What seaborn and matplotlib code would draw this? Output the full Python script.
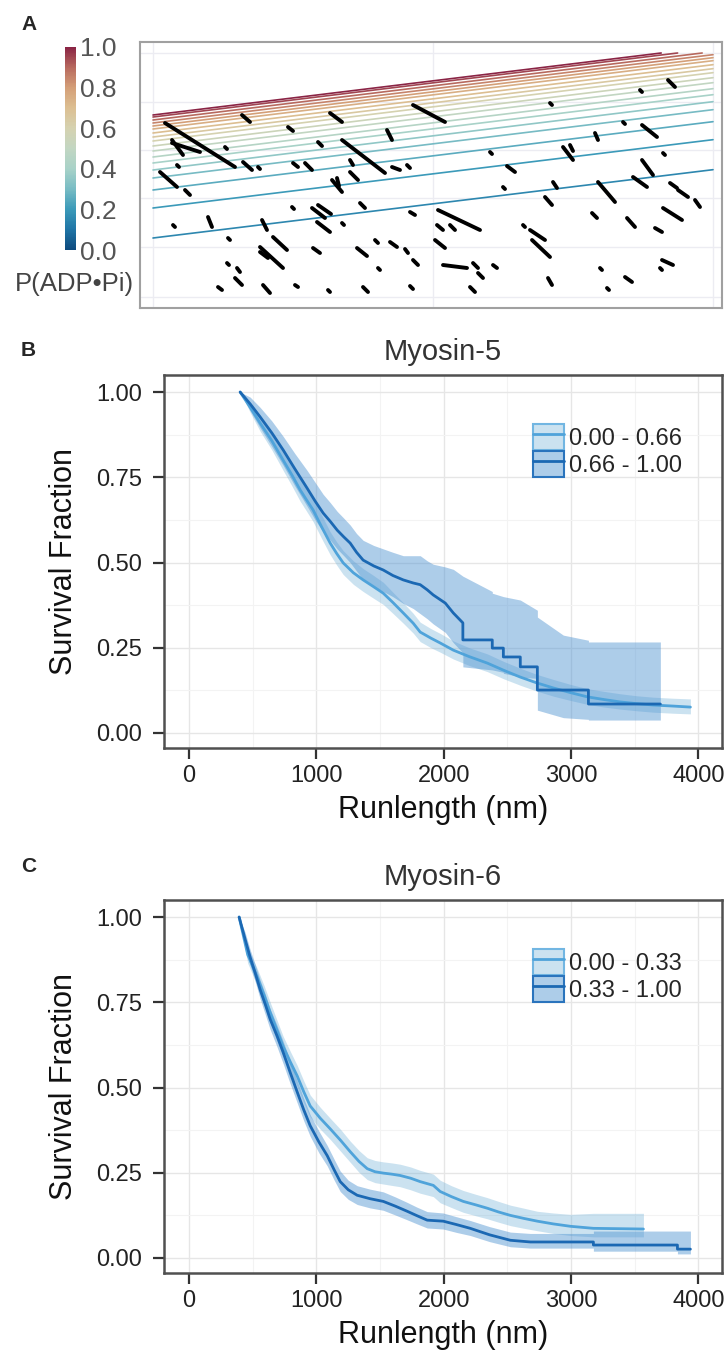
#recreating the kymograph + survival figure (myosin-5 / myosin-6)
import pandas as pd
import matplotlib
matplotlib.use("Agg")
import matplotlib.pyplot as plt
import seaborn as sns
from matplotlib.colors import LinearSegmentedColormap, to_rgba
from matplotlib.patches import Patch
from matplotlib.lines import Line2D
from matplotlib.cm import ScalarMappable
from matplotlib.colors import Normalize

sns.set_theme(style="white")
plt.rcParams['font.family'] = ['Liberation Sans', 'DejaVu Sans']

# ---------------- panel A data (kymograph) ----------------
# black runs: start/end position and time (arbitrary units)
seg_pos0 = [12, 19, 19, 24, 7, 32, 20, 55, 75, 89, 72, 90, 105, 135, 165, 140, 152, 177, 189, 197,
            197, 179, 184, 234, 239, 254, 260, 139, 159, 165, 164, 189, 207, 257, 109, 120, 107, 107, 74, 84,
            82, 65, 110, 142, 160, 175, 204, 210, 222, 225, 237, 252, 260, 257, 397, 337, 354, 350, 400, 392,
            410, 417, 442, 470, 487, 515, 489, 510, 489, 480, 445, 517, 525, 542, 510, 502, 474, 439, 370, 377,
            379, 395, 447, 454, 472, 509, 507, 285, 284, 297, 282, 290, 320, 325, 340, 317]
seg_t0 = [70, 90, 87, 112, 119, 137, 172, 164, 185, 62, 94, 109, 114, 74, 89, 110, 110, 60, 87, 107,
          119, 127, 125, 77, 114, 112, 52, 154, 155, 152, 169, 170, 150, 159, 167, 184, 194, 199, 210, 215,
          225, 234, 232, 232, 195, 237, 195, 234, 187, 215, 189, 196, 207, 233, 50, 99, 113, 134, 129, 144,
          94, 92, 80, 69, 37, 27, 72, 100, 107, 124, 129, 130, 137, 147, 155, 175, 165, 160, 172, 177,
          187, 225, 215, 235, 224, 207, 215, 157, 172, 172, 187, 212, 210, 220, 212, 234]
seg_pos1 = [82, 47, 30, 26, 24, 37, 22, 59, 77, 97, 74, 99, 107, 140, 169, 145, 159, 189, 232, 200,
            205, 189, 186, 239, 247, 257, 292, 141, 172, 178, 177, 191, 212, 262, 114, 134, 130, 115, 76, 87,
            89, 69, 117, 145, 167, 177, 214, 215, 225, 227, 244, 255, 265, 260, 399, 339, 362, 352, 404, 399,
            420, 420, 445, 472, 489, 522, 504, 512, 500, 494, 462, 524, 535, 547, 529, 509, 482, 444, 372, 392,
            397, 399, 449, 456, 479, 520, 509, 327, 290, 302, 292, 314, 325, 330, 344, 322]
seg_t1 = [114, 99, 102, 114, 134, 142, 174, 174, 187, 69, 96, 117, 116, 78, 93, 114, 117, 69, 120, 112,
          127, 139, 133, 87, 117, 115, 69, 156, 165, 161, 179, 172, 155, 162, 177, 197, 215, 205, 212, 219,
          232, 237, 240, 234, 200, 239, 203, 239, 190, 217, 194, 200, 212, 236, 52, 101, 119, 136, 135, 152,
          107, 98, 87, 71, 39, 34, 84, 102, 122, 134, 149, 135, 144, 154, 167, 179, 174, 165, 174, 187,
          204, 232, 217, 237, 229, 212, 217, 177, 177, 177, 195, 215, 215, 225, 215, 239]

# iso-probability lines: P(ADP.Pi) level and time at the left edge
contour_levels = [0.15, 0.20, 0.25, 0.30, 0.35, 0.40, 0.45, 0.50, 0.55, 0.60,
                  0.65, 0.70, 0.75, 0.80, 0.85, 0.90, 0.95, 1.00]
contour_t_left = [185, 155, 137, 125, 117, 110, 104, 98, 93, 88,
                  84, 80, 76, 73, 70, 67, 64, 62]
contour_slope = -0.122
pos_max = 560

# ---------------- panel B data (Myosin-5) ----------------
b_lo_x = [401, 480, 558, 650, 739, 810, 872, 920, 974, 1040, 1108, 1160, 1210, 1290, 1367, 1445, 1525, 1600, 1682,
          1760, 1815, 1900, 1972, 2075, 2200, 2342, 2470, 2601, 2730, 2861, 3000, 3128, 3260, 3387, 3520, 3646, 3800, 3937]
b_lo_y = [1.0, 0.955, 0.909, 0.857, 0.80, 0.755, 0.713, 0.685, 0.654, 0.605, 0.557, 0.526, 0.499, 0.47, 0.449, 0.43,
          0.41, 0.383, 0.352, 0.322, 0.296, 0.278, 0.264, 0.243, 0.224, 0.205, 0.184, 0.164, 0.147, 0.132, 0.118,
          0.106, 0.098, 0.091, 0.086, 0.082, 0.079, 0.076]
b_lo_up = [1.0, 0.97, 0.93, 0.882, 0.83, 0.787, 0.745, 0.718, 0.69, 0.64, 0.59, 0.56, 0.535, 0.505, 0.482, 0.463,
           0.442, 0.413, 0.382, 0.351, 0.325, 0.306, 0.292, 0.27, 0.25, 0.232, 0.21, 0.19, 0.172, 0.157, 0.142,
           0.13, 0.122, 0.115, 0.109, 0.105, 0.102, 0.10]
b_lo_dn = [1.0, 0.94, 0.885, 0.83, 0.77, 0.723, 0.68, 0.652, 0.62, 0.571, 0.523, 0.492, 0.465, 0.436, 0.415, 0.396,
           0.377, 0.351, 0.322, 0.293, 0.268, 0.25, 0.237, 0.217, 0.198, 0.18, 0.159, 0.14, 0.123, 0.108, 0.095,
           0.084, 0.076, 0.07, 0.065, 0.061, 0.058, 0.056]

b_hi_x = [401, 480, 558, 650, 739, 830, 927, 990, 1053, 1110, 1163, 1215, 1265, 1315, 1367, 1450, 1525, 1600, 1682, 1760,
          1815, 1870, 1917, 2012, 2075, 2150, 2150, 2381, 2381, 2468, 2468, 2601, 2601, 2735, 2735, 2939, 3136, 3136, 3701]
b_hi_y = [1.0, 0.965, 0.927, 0.88, 0.83, 0.775, 0.718, 0.68, 0.645, 0.62, 0.595, 0.575, 0.557, 0.53, 0.507, 0.49, 0.478,
          0.462, 0.449, 0.44, 0.435, 0.42, 0.405, 0.381, 0.352, 0.323, 0.273, 0.273, 0.249, 0.249, 0.223, 0.223, 0.194,
          0.194, 0.126, 0.126, 0.126, 0.085, 0.085]
b_hi_up = [1.0, 0.985, 0.955, 0.915, 0.87, 0.82, 0.77, 0.735, 0.70, 0.675, 0.65, 0.63, 0.61, 0.585, 0.565, 0.55, 0.54,
           0.53, 0.52, 0.52, 0.52, 0.505, 0.495, 0.487, 0.48, 0.46, 0.46, 0.415, 0.41, 0.40, 0.40, 0.39, 0.39,
           0.36, 0.34, 0.287, 0.272, 0.267, 0.267]
b_hi_dn = [1.0, 0.945, 0.895, 0.84, 0.785, 0.725, 0.665, 0.625, 0.59, 0.565, 0.54, 0.52, 0.50, 0.475, 0.45, 0.43, 0.415,
           0.40, 0.38, 0.365, 0.35, 0.335, 0.32, 0.295, 0.265, 0.235, 0.194, 0.185, 0.185, 0.178, 0.175, 0.165, 0.164,
           0.16, 0.067, 0.045, 0.04, 0.038, 0.038]

# ---------------- panel C data (Myosin-6) ----------------
c_lo_x = [393, 460, 534, 590, 637, 690, 739, 795, 849, 900, 951, 1030, 1108, 1190, 1265, 1335, 1399, 1460, 1525, 1590,
          1658, 1740, 1815, 1918, 1972, 2060, 2153, 2250, 2342, 2430, 2523, 2630, 2735, 2860, 2994, 3175, 3370, 3568]
c_lo_y = [1.0, 0.89, 0.825, 0.77, 0.72, 0.668, 0.62, 0.575, 0.534, 0.488, 0.446, 0.41, 0.379, 0.345, 0.312, 0.283,
          0.262, 0.253, 0.249, 0.246, 0.242, 0.234, 0.224, 0.213, 0.195, 0.18, 0.166, 0.156, 0.146, 0.135, 0.125,
          0.116, 0.108, 0.1, 0.093, 0.087, 0.086, 0.085]
c_lo_up = [1.0, 0.91, 0.85, 0.798, 0.75, 0.698, 0.65, 0.606, 0.565, 0.52, 0.478, 0.442, 0.41, 0.377, 0.343, 0.315,
           0.294, 0.286, 0.282, 0.279, 0.275, 0.267, 0.257, 0.246, 0.228, 0.212, 0.198, 0.187, 0.177, 0.166, 0.155,
           0.146, 0.137, 0.132, 0.128, 0.131, 0.131, 0.131]
c_lo_dn = [1.0, 0.865, 0.80, 0.742, 0.69, 0.638, 0.59, 0.544, 0.503, 0.456, 0.414, 0.378, 0.348, 0.313, 0.281, 0.251,
           0.23, 0.221, 0.217, 0.213, 0.209, 0.2, 0.19, 0.18, 0.162, 0.148, 0.134, 0.124, 0.115, 0.105, 0.095,
           0.087, 0.08, 0.072, 0.066, 0.062, 0.062, 0.062]

c_hi_x = [393, 440, 479, 520, 558, 600, 637, 690, 739, 795, 849, 900, 951, 1020, 1085, 1140, 1187, 1250, 1320, 1420, 1525,
          1620, 1713, 1790, 1870, 1996, 2100, 2208, 2360, 2523, 2680, 3175, 3175, 3835, 3835, 3937]
c_hi_y = [1.0, 0.935, 0.883, 0.835, 0.787, 0.742, 0.70, 0.652, 0.603, 0.543, 0.487, 0.435, 0.388, 0.34, 0.30, 0.258,
          0.224, 0.2, 0.184, 0.174, 0.166, 0.152, 0.137, 0.124, 0.111, 0.108, 0.098, 0.087, 0.068, 0.052, 0.047,
          0.047, 0.038, 0.038, 0.026, 0.026]
c_hi_up = [1.0, 0.955, 0.905, 0.86, 0.815, 0.772, 0.73, 0.683, 0.635, 0.577, 0.52, 0.468, 0.42, 0.372, 0.33, 0.289,
           0.255, 0.228, 0.212, 0.202, 0.194, 0.179, 0.163, 0.149, 0.136, 0.132, 0.121, 0.11, 0.092, 0.076, 0.072,
           0.072, 0.079, 0.079, 0.079, 0.079]
c_hi_dn = [1.0, 0.91, 0.86, 0.81, 0.76, 0.712, 0.67, 0.62, 0.57, 0.51, 0.455, 0.403, 0.357, 0.308, 0.27, 0.228,
           0.195, 0.172, 0.157, 0.147, 0.14, 0.126, 0.112, 0.1, 0.088, 0.085, 0.075, 0.066, 0.048, 0.033, 0.029,
           0.029, 0.02, 0.02, 0.012, 0.012]

b_labels = ["0.00 - 0.66", "0.66 - 1.00"]
c_labels = ["0.00 - 0.33", "0.33 - 1.00"]

# colours
light_line = "#4fa3da"
dark_line = "#1b68b3"
light_fill = to_rgba("#6baed6", 0.35)
dark_fill = to_rgba("#4a90d0", 0.45)
light_edge = "#72b6e2"
dark_edge = "#2a74bd"

padp_cmap = LinearSegmentedColormap.from_list("padp", [
    (0.0, "#0d4a7e"), (0.1, "#1f75a6"), (0.2, "#3b9ab9"), (0.3, "#78bcc4"),
    (0.4, "#a8d2c8"), (0.5, "#c2d6c2"), (0.6, "#d5d2b0"), (0.7, "#dcbf92"),
    (0.8, "#d49f78"), (0.9, "#b86a5e"), (1.0, "#8a2445")])

W, H = 728, 1353
fig = plt.figure(figsize=(W / 100, H / 100), dpi=100)


def box(l, t, r, b):
    return [l / W, 1 - b / H, (r - l) / W, (b - t) / H]


# ---------------- panel A ----------------
axA = fig.add_axes(box(140, 42, 722, 308))

rows = []
for lev, t0 in zip(contour_levels, contour_t_left):
    p_end = min(pos_max, t0 / -contour_slope)
    rows.append((lev, 0, t0))
    rows.append((lev, p_end, t0 + contour_slope * p_end))
df_cont = pd.DataFrame(rows, columns=["level", "pos", "time"])
sns.lineplot(data=df_cont, x="pos", y="time", hue="level", palette=padp_cmap, hue_norm=(0, 1),
             estimator=None, sort=False, lw=1.2, legend=False, ax=axA)

seg_rows = []
for i in range(len(seg_pos0)):
    seg_rows.append((i, seg_pos0[i], seg_t0[i]))
    seg_rows.append((i, seg_pos1[i], seg_t1[i]))
df_seg = pd.DataFrame(seg_rows, columns=["seg", "pos", "time"])
sns.lineplot(data=df_seg, x="pos", y="time", units="seg", estimator=None, sort=False,
             color="black", lw=2.8, solid_capstyle="round", legend=False, ax=axA)

axA.set_xlim(-13, 569)
axA.set_ylim(255, -11)
axA.set_xticks([0, 280, 560])
axA.set_yticks([0, 49, 97, 145, 194, 244])
axA.tick_params(length=0, labelbottom=False, labelleft=False)
axA.grid(True, color="#ececf2", lw=1.0)
axA.set_axisbelow(True)
axA.set_xlabel("")
axA.set_ylabel("")
for s in axA.spines.values():
    s.set_color("#a0a0a0")
    s.set_linewidth(1.5)

cax = fig.add_axes(box(65, 47, 76, 250))
cb = fig.colorbar(ScalarMappable(norm=Normalize(0, 1), cmap=padp_cmap), cax=cax)
cb.outline.set_visible(False)
cb.set_ticks([0, 0.2, 0.4, 0.6, 0.8, 1.0])
cb.set_ticklabels(["0.0", "0.2", "0.4", "0.6", "0.8", "1.0"])
cax.tick_params(length=0, labelsize=19, labelcolor="#555555", pad=3)
fig.text(15 / W, 1 - 284 / H, "P(ADP•Pi)", fontsize=18.5, color="#444444", va="center", ha="left")
fig.text(21 / W, 1 - 25 / H, "A", fontsize=15, fontweight="bold", va="center", ha="left")


# ---------------- panels B and C ----------------
def survival_panel(ax, lo, hi, labels, title):
    lo_x, lo_y, lo_up, lo_dn = lo
    hi_x, hi_y, hi_up, hi_dn = hi
    ax.fill_between(lo_x, lo_dn, lo_up, color=light_fill, lw=0, zorder=2)
    ax.fill_between(hi_x, hi_dn, hi_up, color=dark_fill, lw=0, zorder=2)
    df = pd.concat([
        pd.DataFrame({"Runlength": lo_x, "Survival": lo_y, "group": labels[0]}),
        pd.DataFrame({"Runlength": hi_x, "Survival": hi_y, "group": labels[1]}),
    ])
    sns.lineplot(data=df[df["group"] == labels[0]], x="Runlength", y="Survival", color=light_line,
                 estimator=None, sort=False, lw=2.0, ax=ax, zorder=3)
    sns.lineplot(data=df[df["group"] == labels[1]], x="Runlength", y="Survival", color=dark_line,
                 estimator=None, sort=False, lw=2.0, ax=ax, zorder=4)

    ax.set_xlim(-197, 4185)
    ax.set_ylim(-0.044, 1.05)
    ax.set_xticks([0, 1000, 2000, 3000, 4000])
    ax.set_xticks([500, 1500, 2500, 3500], minor=True)
    ax.set_yticks([0, 0.25, 0.5, 0.75, 1.0])
    ax.set_yticks([0.125, 0.375, 0.625, 0.875], minor=True)
    ax.set_yticklabels(["0.00", "0.25", "0.50", "0.75", "1.00"])
    ax.grid(True, which="major", color="#e6e6e6", lw=1.0)
    ax.grid(True, which="minor", color="#f3f3f3", lw=0.8)
    ax.set_axisbelow(True)
    ax.tick_params(which="major", direction="out", length=8, width=1.6, color="#333333",
                   labelsize=17, labelcolor="#222222", bottom=True, left=True)
    ax.tick_params(axis="y", pad=8)
    ax.tick_params(axis="x", pad=4)
    ax.tick_params(which="minor", length=0)
    for s in ax.spines.values():
        s.set_color("#505050")
        s.set_linewidth(1.8)
    ax.set_xlabel("Runlength (nm)", fontsize=22, labelpad=6, color="#111111")
    ax.set_ylabel("Survival Fraction", fontsize=22, labelpad=12, color="#111111")
    ax.set_title(title, fontsize=21, color="#333333", pad=11)

    handles = [
        (Patch(facecolor=light_fill, edgecolor=light_edge, lw=1.5), Line2D([], [], color=light_line, lw=2)),
        (Patch(facecolor=dark_fill, edgecolor=dark_edge, lw=1.5), Line2D([], [], color=dark_line, lw=2)),
    ]
    ax.legend(handles, labels, loc="upper left", bbox_to_anchor=(0.661, 0.869), frameon=False,
              fontsize=17, handlelength=1.3, handleheight=1.3, handletextpad=0.25,
              labelspacing=0.05, borderpad=0, borderaxespad=0)


axB = fig.add_axes(box(164, 375, 722, 748))
survival_panel(axB, (b_lo_x, b_lo_y, b_lo_up, b_lo_dn), (b_hi_x, b_hi_y, b_hi_up, b_hi_dn),
               b_labels, "Myosin-5")
fig.text(21 / W, 1 - 350 / H, "B", fontsize=15, fontweight="bold", va="center", ha="left")

axC = fig.add_axes(box(164, 900, 722, 1273))
survival_panel(axC, (c_lo_x, c_lo_y, c_lo_up, c_lo_dn), (c_hi_x, c_hi_y, c_hi_up, c_hi_dn),
               c_labels, "Myosin-6")
fig.text(21 / W, 1 - 867 / H, "C", fontsize=15, fontweight="bold", va="center", ha="left")

fig.savefig("out.png", dpi=100)
